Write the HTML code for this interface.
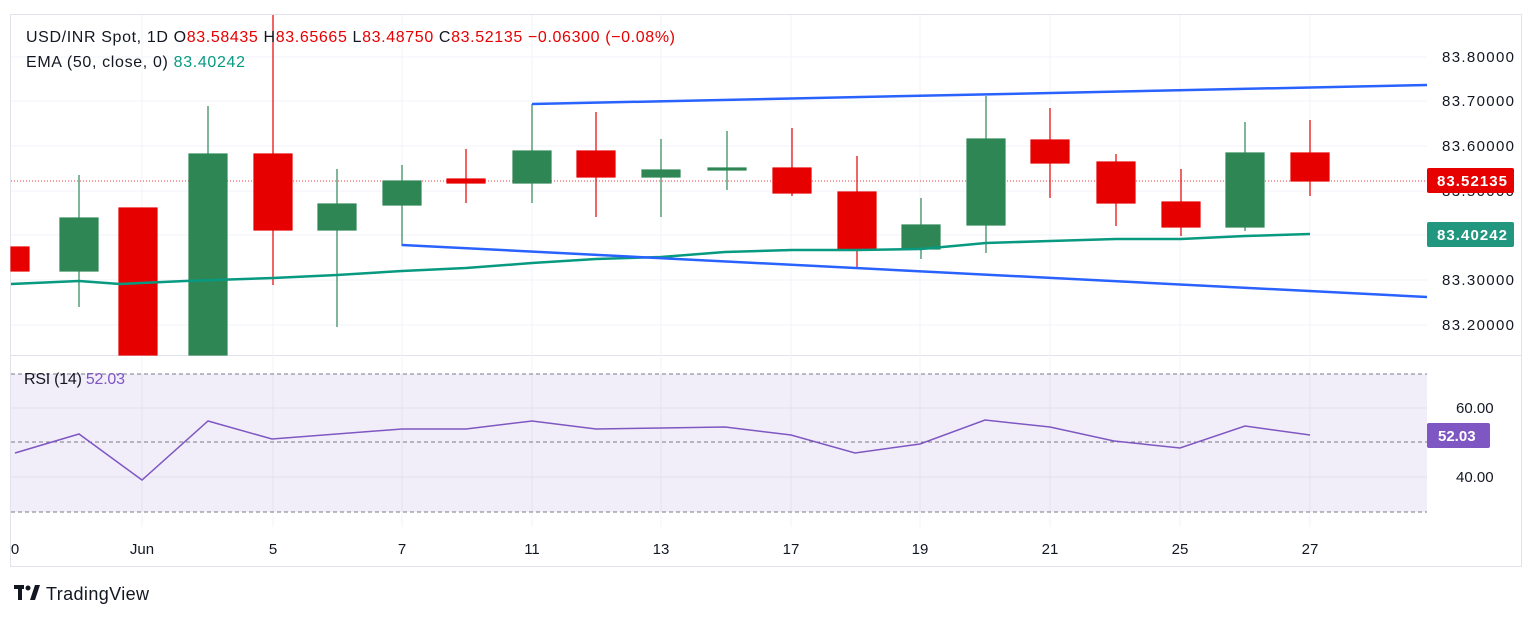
<!DOCTYPE html>
<html><head><meta charset="utf-8"><style>
body{margin:0;background:#fff;}
svg{display:block;font-family:"Liberation Sans",sans-serif;}
</style></head><body>
<svg width="1536" height="618" viewBox="0 0 1536 618" xmlns="http://www.w3.org/2000/svg">
<rect width="1536" height="618" fill="#fff"/>
<rect x="10.5" y="14.5" width="1511" height="552" fill="none" stroke="#e0e3eb"/>
<line x1="11" y1="355.5" x2="1521" y2="355.5" stroke="#e0e3eb"/>
<g stroke="#f0f3fa" stroke-width="1">
<line x1="11" y1="57" x2="1427" y2="57"/><line x1="11" y1="101" x2="1427" y2="101"/><line x1="11" y1="146" x2="1427" y2="146"/><line x1="11" y1="191" x2="1427" y2="191"/><line x1="11" y1="235" x2="1427" y2="235"/><line x1="11" y1="280" x2="1427" y2="280"/><line x1="11" y1="325" x2="1427" y2="325"/>
<line x1="142" y1="15" x2="142" y2="527"/><line x1="273" y1="15" x2="273" y2="527"/><line x1="402" y1="15" x2="402" y2="527"/><line x1="532" y1="15" x2="532" y2="527"/><line x1="661" y1="15" x2="661" y2="527"/><line x1="791" y1="15" x2="791" y2="527"/><line x1="920" y1="15" x2="920" y2="527"/><line x1="1050" y1="15" x2="1050" y2="527"/><line x1="1180" y1="15" x2="1180" y2="527"/><line x1="1310" y1="15" x2="1310" y2="527"/>
</g>
<rect x="11" y="374" width="1416" height="138" fill="#7e57c2" fill-opacity="0.1"/>
<line x1="11" y1="408" x2="1427" y2="408" stroke="#e3e0ee"/><line x1="11" y1="477" x2="1427" y2="477" stroke="#e3e0ee"/>
<g stroke="#787b86" stroke-dasharray="4 3"><line x1="11" y1="374" x2="1427" y2="374"/><line x1="11" y1="442" x2="1427" y2="442"/><line x1="11" y1="512" x2="1427" y2="512"/></g>
<polyline fill="none" stroke="#7e57c2" stroke-width="1.5" points="15,453 79,434 142,480 208,421 272,439 402,429 466,429 532,421 596,429 661,428 725,427 791,435 855,453 920,444 985,420 1050,427 1114,441 1180,448 1245,426 1310,435"/>
<line x1="11" y1="181" x2="1427" y2="181" stroke="#f23645" stroke-dasharray="1 2"/>
<g stroke-width="1.2">
<g fill="#e60000" stroke="#e60000">
<rect x="11" y="247" width="18" height="24"/>
<rect x="119" y="208" width="38" height="147"/>
<line x1="273" y1="15" x2="273" y2="285"/><rect x="254" y="154" width="38" height="76"/>
<line x1="466" y1="149" x2="466" y2="203"/><rect x="447" y="179" width="38" height="4"/>
<line x1="596" y1="112" x2="596" y2="217"/><rect x="577" y="151" width="38" height="26"/>
<line x1="792" y1="128" x2="792" y2="196"/><rect x="773" y="168" width="38" height="25"/>
<line x1="857" y1="156" x2="857" y2="268"/><rect x="838" y="192" width="38" height="57"/>
<line x1="1050" y1="108" x2="1050" y2="198"/><rect x="1031" y="140" width="38" height="23"/>
<line x1="1116" y1="154" x2="1116" y2="226"/><rect x="1097" y="162" width="38" height="41"/>
<line x1="1181" y1="169" x2="1181" y2="236"/><rect x="1162" y="202" width="38" height="25"/>
<line x1="1310" y1="120" x2="1310" y2="196"/><rect x="1291" y="153" width="38" height="28"/>
</g>
<g fill="#2e8655" stroke="#2e8655">
<line x1="79" y1="175" x2="79" y2="307"/><rect x="60" y="218" width="38" height="53"/>
<line x1="208" y1="106" x2="208" y2="154"/><rect x="189" y="154" width="38" height="201"/>
<line x1="337" y1="169" x2="337" y2="327"/><rect x="318" y="204" width="38" height="26"/>
<line x1="402" y1="165" x2="402" y2="246"/><rect x="383" y="181" width="38" height="24"/>
<line x1="532" y1="104" x2="532" y2="203"/><rect x="513" y="151" width="38" height="32"/>
<line x1="661" y1="139" x2="661" y2="217"/><rect x="642" y="170" width="38" height="7"/>
<line x1="727" y1="131" x2="727" y2="190"/><rect x="708" y="168" width="38" height="2"/>
<line x1="921" y1="198" x2="921" y2="259"/><rect x="902" y="225" width="38" height="24"/>
<line x1="986" y1="96" x2="986" y2="253"/><rect x="967" y="139" width="38" height="86"/>
<line x1="1245" y1="122" x2="1245" y2="231"/><rect x="1226" y="153" width="38" height="74"/>
</g>
</g>
<polyline fill="none" stroke="#089981" stroke-width="2.5" points="11,284 79,281 120,284 185,281 273,278 337,275 402,271 466,268 532,263 596,259 661,257 725,252 792,250 857,250 921,249 986,243 1050,241 1116,239 1181,239 1245,236 1310,234"/>
<line x1="532" y1="104" x2="1427" y2="85" stroke="#2962ff" stroke-width="2.5"/>
<line x1="402" y1="245" x2="1427" y2="297" stroke="#2962ff" stroke-width="2.5"/>
<g font-size="15" fill="#131722">
<text x="1442" y="62" textLength="72">83.80000</text><text x="1442" y="106" textLength="72">83.70000</text><text x="1442" y="151" textLength="72">83.60000</text><text x="1442" y="196" textLength="72">83.50000</text><text x="1442" y="285" textLength="72">83.30000</text><text x="1442" y="330" textLength="72">83.20000</text>
<text x="1456" y="413">60.00</text><text x="1456" y="482">40.00</text>
</g>
<rect x="1427" y="168" width="87" height="25" rx="2" fill="#e60000"/><text x="1437" y="186" font-size="15" fill="#fff" font-weight="bold" textLength="70">83.52135</text>
<rect x="1427" y="222" width="87" height="25" rx="2" fill="#22977f"/><text x="1437" y="240" font-size="15" fill="#fff" font-weight="bold" textLength="70">83.40242</text>
<rect x="1427" y="423" width="63" height="25" rx="2" fill="#7e57c2"/><text x="1438" y="441" font-size="15" fill="#fff" font-weight="bold">52.03</text>
<g font-size="15" fill="#131722" text-anchor="middle">
<text x="15" y="554">0</text><text x="142" y="554">Jun</text><text x="273" y="554">5</text><text x="402" y="554">7</text><text x="532" y="554">11</text><text x="661" y="554">13</text><text x="791" y="554">17</text><text x="920" y="554">19</text><text x="1050" y="554">21</text><text x="1180" y="554">25</text><text x="1310" y="554">27</text>
</g>
<g font-size="16">
<text x="26" y="42" fill="#131722" textLength="649" lengthAdjust="spacing">USD/INR Spot, 1D  O<tspan fill="#e60000">83.58435</tspan>  H<tspan fill="#e60000">83.65665</tspan>  L<tspan fill="#e60000">83.48750</tspan>  C<tspan fill="#e60000">83.52135</tspan>  <tspan fill="#e60000">−0.06300 (−0.08%)</tspan></text>
<text x="26" y="67" fill="#131722" textLength="219" lengthAdjust="spacing">EMA (50, close, 0)  <tspan fill="#089981">83.40242</tspan></text>
<text x="24" y="384" fill="#131722" textLength="101" lengthAdjust="spacing">RSI (14)  <tspan fill="#7e57c2">52.03</tspan></text>
</g>
<g fill="#131722"><rect x="14" y="585" width="10" height="4"/><rect x="18" y="585" width="4" height="15"/><circle cx="28" cy="588" r="2.5"/><polygon points="30,600 35,585 40,585 35,600"/></g>
<text x="46" y="600" font-size="18" fill="#131722" textLength="103">TradingView</text>
</svg>
</body></html>
